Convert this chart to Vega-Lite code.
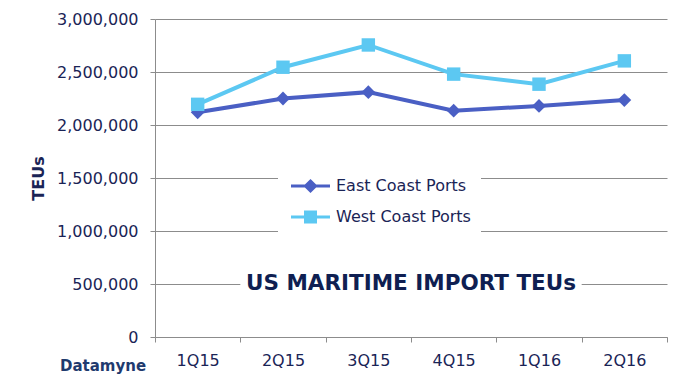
{
  "$schema": "https://vega.github.io/schema/vega-lite/v6.json",
  "autosize": {"type": "none"},
  "padding": {"left": 155, "top": 19, "right": 33, "bottom": 49},
  "width": 512,
  "height": 318,
  "background": "white",
  "title": {
    "text": "Datamyne",
    "orient": "bottom",
    "anchor": "start",
    "frame": "group",
    "dx": -95,
    "offset": -9,
    "font": "DejaVu Sans",
    "fontSize": 15,
    "fontWeight": "bold",
    "color": "#1f3a6e"
  },
  "config": {
    "view": {"stroke": null},
    "font": "DejaVu Sans",
    "axis": {
      "labelFont": "DejaVu Sans",
      "labelFontSize": 16,
      "labelColor": "#1a2456",
      "domainColor": "#8c8c8c",
      "tickColor": "#8c8c8c",
      "gridColor": "#8c8c8c",
      "tickSize": 5
    }
  },
  "data": {
    "values": [
      {"quarter": "1Q15", "series": "East Coast Ports", "teu": 2120000},
      {"quarter": "2Q15", "series": "East Coast Ports", "teu": 2250000},
      {"quarter": "3Q15", "series": "East Coast Ports", "teu": 2310000},
      {"quarter": "4Q15", "series": "East Coast Ports", "teu": 2135000},
      {"quarter": "1Q16", "series": "East Coast Ports", "teu": 2180000},
      {"quarter": "2Q16", "series": "East Coast Ports", "teu": 2235000},
      {"quarter": "1Q15", "series": "West Coast Ports", "teu": 2195000},
      {"quarter": "2Q15", "series": "West Coast Ports", "teu": 2545000},
      {"quarter": "3Q15", "series": "West Coast Ports", "teu": 2755000},
      {"quarter": "4Q15", "series": "West Coast Ports", "teu": 2480000},
      {"quarter": "1Q16", "series": "West Coast Ports", "teu": 2385000},
      {"quarter": "2Q16", "series": "West Coast Ports", "teu": 2605000}
    ]
  },
  "encoding": {
    "x": {
      "field": "quarter",
      "type": "ordinal",
      "sort": null,
      "scale": {"type": "band", "domain": ["1Q15", "2Q15", "3Q15", "4Q15", "1Q16", "2Q16"], "paddingInner": 0, "paddingOuter": 0},
      "axis": {
        "title": null,
        "labelAngle": 0,
        "tickBand": "extent",
        "labelPadding": 10,
        "grid": false
      }
    },
    "y": {
      "field": "teu",
      "type": "quantitative",
      "scale": {"domain": [0, 3000000]},
      "axis": {
        "values": [0, 500000, 1000000, 1500000, 2000000, 2500000, 3000000],
        "format": ",d",
        "title": "TEUs",
        "titleFont": "DejaVu Sans",
        "titleFontSize": 16,
        "titleFontWeight": "bold",
        "titleColor": "#1a2456",
        "titlePadding": 10,
        "labelPadding": 12,
        "grid": true
      }
    }
  },
  "layer": [
    {
      "mark": {"type": "line", "strokeWidth": 4},
      "encoding": {
        "color": {
          "field": "series",
          "type": "nominal",
          "scale": {"domain": ["East Coast Ports", "West Coast Ports"], "range": ["#4a5fc4", "#5cc8f2"]},
          "legend": {
            "title": null,
            "orient": "none",
            "legendX": 123,
            "legendY": 149,
            "fillColor": "white",
            "padding": 10,
            "rowPadding": 9,
            "labelFont": "DejaVu Sans",
            "labelFontSize": 16,
            "labelColor": "#1a2456",
            "labelOffset": 32,
            "symbolSize": 100,
            "symbolStrokeWidth": 3,
            "labelLimit": 300,
            "encode": {
              "symbols": {
                "update": {
                  "shape": {"signal": "datum.value === 'East Coast Ports' ? 'M-1,0H6.8M2.9,-1L3.9,0L2.9,1L1.9,0Z' : 'M-1,0H6.8M1.9,-1H3.9V1H1.9Z'"},
                  "stroke": {"scale": "color", "field": "value"},
                  "fill": {"scale": "color", "field": "value"},
                  "strokeWidth": {"value": 3}
                }
              }
            }
          }
        }
      }
    },
    {
      "transform": [{"filter": "datum.series === 'East Coast Ports'"}],
      "mark": {"type": "point", "filled": true, "opacity": 1, "shape": "diamond", "size": 190},
      "encoding": {
        "color": {"field": "series", "type": "nominal"}
      }
    },
    {
      "transform": [{"filter": "datum.series === 'West Coast Ports'"}],
      "mark": {"type": "point", "filled": true, "opacity": 1, "shape": "square", "size": 180},
      "encoding": {
        "color": {"field": "series", "type": "nominal"}
      }
    },
    {
      "data": {"values": [
        {"quarter": "2Q15", "ylo": 440000, "yhi": 560000},
        {"quarter": "3Q15", "ylo": 440000, "yhi": 560000},
        {"quarter": "4Q15", "ylo": 440000, "yhi": 560000},
        {"quarter": "1Q16", "ylo": 440000, "yhi": 560000}
      ]},
      "mark": {"type": "rect", "fill": "white"},
      "encoding": {
        "y": {"field": "ylo", "type": "quantitative"},
        "y2": {"field": "yhi"}
      }
    },
    {
      "data": {"values": [{"label": "US MARITIME IMPORT TEUs", "at": "3Q15", "ymid": 500000}]},
      "mark": {"type": "text", "font": "DejaVu Sans", "fontSize": 21.5, "fontWeight": "bold", "color": "#0f1f52", "align": "center", "baseline": "middle"},
      "encoding": {
        "x": {"field": "at", "type": "ordinal", "bandPosition": 1},
        "y": {"field": "ymid", "type": "quantitative"},
        "text": {"field": "label"}
      }
    }
  ]
}
